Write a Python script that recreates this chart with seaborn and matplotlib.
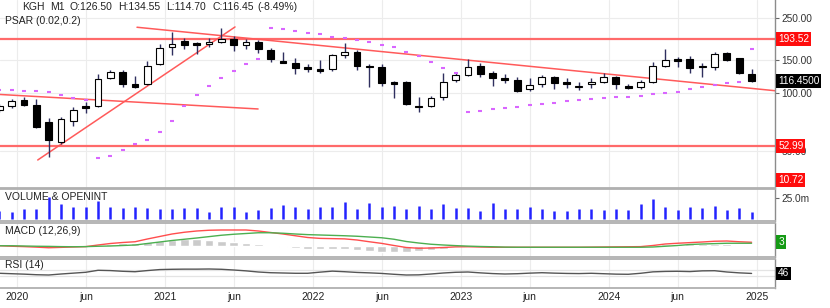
import numpy as np
import pandas as pd
import matplotlib
matplotlib.use("Agg")
import matplotlib.pyplot as plt
import matplotlib.transforms as mtrans
from matplotlib.ticker import NullLocator, FixedLocator
import seaborn as sns

# ---------------- data ----------------
month_idx = list(range(-2, 60))   # months since Jan 2020 (Nov 2019 .. Dec 2024)

open_ = [82.0, 86.0, 92.4, 87.0, 70.8, 55.6, 71.7, 86.0, 86.0, 120.6,
         129.7, 112.2, 112.2, 142.9, 175.6, 188.8, 184.3, 182.1, 186.5, 193.4,
         179.9, 186.5, 169.3, 148.2, 144.7, 137.9, 134.5, 134.5, 159.4, 165.3,
         139.5, 137.9, 115.0, 115.0, 86.0, 86.0, 95.9, 117.7, 125.1, 139.5,
         128.1, 120.6, 117.7, 105.6, 112.2, 122.1, 115.0, 108.2, 112.2, 115.0,
         122.1, 109.5, 108.2, 115.0, 139.5, 151.8, 151.8, 137.9, 137.9, 163.3,
         153.7, 126.50]
high_ = [88.0, 93.6, 95.9, 93.6, 74.3, 75.2, 84.9, 90.2, 126.6, 132.9,
         132.9, 123.6, 148.2, 182.1, 210.5, 195.8, 186.5, 195.8, 221.0, 200.6,
         193.4, 191.1, 173.5, 165.3, 153.7, 142.9, 150.0, 160.5, 184.3, 169.3,
         142.9, 142.9, 116.0, 116.3, 95.9, 97.0, 128.1, 129.7, 151.8, 144.7,
         131.3, 126.6, 122.1, 120.6, 125.1, 123.6, 120.6, 115.0, 120.6, 128.1,
         123.6, 112.2, 117.7, 146.4, 171.4, 155.6, 157.5, 144.7, 165.3, 165.3,
         153.7, 134.55]
low_ = [80.0, 83.9, 86.0, 65.9, 46.4, 54.3, 67.5, 79.0, 84.9, 119.2,
        108.2, 106.9, 110.8, 141.2, 159.4, 171.4, 161.3, 175.6, 184.3, 167.3,
        171.4, 163.3, 146.4, 144.0, 126.6, 129.7, 128.1, 132.0, 153.7, 132.9,
        108.2, 109.5, 94.7, 87.0, 79.9, 84.9, 92.4, 115.0, 123.6, 122.1,
        109.5, 113.6, 101.8, 103.1, 108.2, 105.6, 106.9, 104.3, 106.9, 113.6,
        105.6, 105.6, 105.6, 113.6, 137.9, 137.9, 128.1, 122.1, 132.9, 148.2,
        126.6, 114.70]
close_ = [86.0, 91.3, 87.0, 66.7, 56.9, 73.4, 81.9, 83.9, 119.2, 129.7,
          112.2, 108.2, 139.5, 173.5, 182.1, 179.9, 179.9, 186.5, 193.4, 179.9,
          186.5, 171.4, 151.8, 144.7, 136.2, 134.5, 131.3, 159.4, 165.3, 139.5,
          137.9, 113.6, 112.2, 88.0, 84.5, 94.7, 115.0, 125.1, 137.9, 126.6,
          120.6, 117.7, 103.1, 110.8, 122.1, 113.6, 112.2, 109.5, 115.0, 122.1,
          112.2, 106.9, 115.0, 139.5, 150.0, 148.2, 136.2, 139.5, 161.3, 150.0,
          128.1, 116.45]

psar = [104.3, 103.7, 103.1, 102.5, 101.2, 97.6, 94.7, 91.9,
        45.8, 47.1, 50.4, 54.3, 56.9, 62.7, 71.9, 86.3, 98.2, 109.5, 120.6,
        131.3, 142.9, 151.8,
        221.0, 217.5, 213.1, 208.7, 204.3, 198.9, 195.8, 191.1, 185.4, 180.6,
        175.6, 165.9, 157.5, 145.9, 136.6, 128.9,
        79.6, 81.2, 82.6, 83.9, 85.2, 86.7, 88.0, 89.5, 91.0, 91.9, 93.0,
        94.4, 95.5, 96.2, 97.4, 99.0, 100.2, 102.2, 105.2, 107.8, 110.8,
        113.1, 115.4,
        170.8]

volume_m = [10.0, 9.2, 12.4, 12.4, 26.9, 17.9, 14.4, 14.4, 21.8, 14.4,
            13.2, 15.1, 13.9, 12.4, 12.4, 13.2, 13.2, 9.2, 15.1, 15.1,
            8.5, 11.2, 13.2, 17.1, 14.4, 12.0, 15.1, 15.1, 21.0, 12.4,
            19.1, 15.1, 16.3, 12.4, 16.5, 12.4, 17.9, 13.2, 13.2, 10.4,
            19.1, 12.0, 12.4, 14.4, 12.0, 10.4, 10.4, 12.4, 12.4, 11.2,
            12.4, 11.2, 17.9, 23.8, 15.1, 11.2, 15.1, 13.9, 15.9, 11.2,
            13.2, 8.5]

macd = [0.2, -0.2, -0.5, -0.9, -1.4, -1.1, -0.8, -0.5, 0.8, 2.0,
        2.8, 3.4, 5.6, 7.6, 9.6, 11.0, 12.0, 12.6, 12.8, 12.8,
        12.8, 12.0, 10.8, 9.6, 8.2, 6.8, 6.1, 5.9, 5.7, 4.8,
        3.4, 2.1, 0.4, -1.2, -1.8, -1.6, -1.2, -0.7, -0.6, -0.8,
        -1.0, -1.0, -1.0, -1.0, -1.0, -1.0, -1.0, -1.0, -0.9, -0.8,
        -0.7, -0.6, -0.5, 0.4, 1.6, 2.2, 2.7, 3.2, 3.8, 4.0,
        3.4, 3.0]
signal = [0.2, 0.2, 0.0, -0.2, -0.3, -0.5, -0.6, -0.5, -0.2, 0.0,
          0.4, 0.8, 2.0, 3.2, 4.4, 5.4, 6.4, 7.5, 8.6, 9.4,
          10.0, 10.6, 10.6, 10.2, 9.6, 9.1, 8.8, 8.5, 8.2, 7.8,
          7.2, 6.6, 5.4, 3.6, 2.4, 1.4, 0.8, 0.3, -0.1, -0.4,
          -0.6, -0.9, -1.0, -1.0, -1.0, -1.0, -1.0, -1.0, -1.0, -1.0,
          -1.0, -1.0, -1.0, -0.8, -0.2, 0.4, 1.2, 1.6, 1.9, 2.2,
          2.2, 2.2]
hist = [0.0, -0.4, -0.5, -0.7, -1.1, -0.6, -0.2, 0.0, 1.0, 2.0,
        2.4, 2.6, 3.6, 4.4, 5.2, 5.6, 5.6, 5.1, 4.2, 3.4,
        2.8, 1.4, 0.2, -0.6, -1.4, -2.3, -2.7, -2.6, -2.5, -3.0,
        -3.8, -4.5, -5.0, -4.8, -4.2, -3.0, -2.0, -1.0, -0.5, -0.4,
        -0.4, -0.1, 0.0, 0.0, 0.0, 0.0, 0.0, 0.0, 0.1, 0.2,
        0.3, 0.4, 0.5, 1.2, 1.8, 1.8, 1.5, 1.6, 1.9, 1.8,
        1.2, 0.8]

rsi = [47, 44, 41, 37, 35, 42, 48, 54, 68, 66,
       61, 58, 66, 73, 75, 76, 76, 77, 75, 70,
       64, 56, 51, 49, 47, 47, 55, 62, 58, 53,
       50, 46, 40, 35, 36, 42, 49, 54, 56, 50,
       45, 42, 44, 48, 51, 48, 46, 45, 47, 44,
       41, 40, 47, 57, 60, 61, 59, 64, 65, 56,
       50, 46]

levels = [193.52, 52.99]
trend_up_x, trend_up_y = [1.11, 17.11], [44.7, 223.7]
trend_low_x, trend_low_y = [-1.95, 18.98], [98.8, 82.9]
trend_down_x, trend_down_y = [9.16, 60.9], [222.9, 103.4]

price_ticks = [50, 100, 150, 250]
xtick_pos = [-0.56, 5.0, 11.44, 17.0, 23.44, 29.0, 35.44, 41.0, 47.44, 53.0, 59.44]
xtick_lab = ['2020', 'jun', '2021', 'jun', '2022', 'jun', '2023', 'jun', '2024', 'jun', '2025']

df = pd.DataFrame(dict(m=month_idx, open=open_, high=high_, low=low_, close=close_,
                       psar=psar, vol=volume_m, macd=macd, signal=signal,
                       hist=hist, rsi=rsi))

# ---------------- figure ----------------
sns.set_theme(style="white")
plt.rcParams['font.family'] = ['Liberation Sans', 'DejaVu Sans']

W, H = 830, 308
fig = plt.figure(figsize=(W / 100, H / 100), dpi=100)


def px_axes(x0, y0, x1, y1):
    return fig.add_axes([x0 / W, 1 - y1 / H, (x1 - x0) / W, (y1 - y0) / H])


ax = px_axes(0, 0, 775, 188)
axv = px_axes(0, 189, 775, 221)
axm = px_axes(0, 223, 775, 257)
axr = px_axes(0, 259, 775, 288)

XL = (-1.95, 60.9)
GRID = '#ececec'
SEP = '#b0b0b0'
TXT = '#222222'

for a in (ax, axv, axm, axr):
    a.set_xlim(*XL)
    a.set_facecolor('white')
    a.xaxis.set_major_locator(FixedLocator(xtick_pos))
    a.grid(True, axis='x', color=GRID, lw=0.8)
    a.set_axisbelow(True)
    a.spines['left'].set_visible(False)
    a.spines['right'].set_color('#8c8c8c')
    a.spines['right'].set_linewidth(1.0)
    a.spines['top'].set_color(SEP)
    a.spines['bottom'].set_color(SEP)
    a.spines['top'].set_linewidth(1.3)
    a.spines['bottom'].set_linewidth(1.3)
    a.yaxis.tick_right()
    a.tick_params(axis='y', which='major', direction='out', length=3, width=0.8,
                  color='#666666', labelsize=7.3, labelcolor='#333333', pad=1.5)
    a.tick_params(axis='x', length=0, labelbottom=False)
ax.spines['top'].set_visible(False)

# ---------------- main price panel ----------------
ax.set_yscale('log')
ax.set_ylim(31.85, 310)
ax.yaxis.set_major_locator(FixedLocator(price_ticks))
ax.yaxis.set_minor_locator(NullLocator())
ax.set_yticklabels([f"{v:.2f}" for v in price_ticks])
ax.grid(True, axis='y', color=GRID, lw=0.8)

blend = mtrans.blended_transform_factory(ax.transAxes, ax.transData)
for lv in levels:
    ax.axhline(lv, color='#ff6a6a', lw=1.6, zorder=2)
ax.plot(trend_up_x, trend_up_y, color='#ff5a5a', lw=1.1, zorder=2)
ax.plot(trend_low_x, trend_low_y, color='#ff5a5a', lw=1.1, zorder=2)
ax.plot(trend_down_x, trend_down_y, color='#ff5a5a', lw=1.1, zorder=2)

up = df['close'] >= df['open']
ax.vlines(df['m'], df['low'], df['high'], color='#2f2f5f', lw=1.0, zorder=3)
body_bot = np.minimum(df['open'], df['close'])
body_h = np.maximum(np.abs(df['close'] - df['open']), 0.6)
ax.bar(df['m'], body_h, bottom=body_bot, width=0.56,
       color=np.where(up, 'white', 'black'), edgecolor='black', linewidth=0.8, zorder=4)

sns.scatterplot(data=df, x='m', y='psar', ax=ax, marker='_', s=10, linewidth=1.5,
                color='#d966ff', zorder=5, legend=False)
ax.set_xlabel('')
ax.set_ylabel('')


def box(a, y, text, fc, transform=None):
    tr = transform or mtrans.blended_transform_factory(a.transAxes, a.transData)
    a.text(1.004, y, text, transform=tr, ha='left', va='center', color='white',
           fontsize=7.3, zorder=10, clip_on=False,
           bbox=dict(boxstyle='square,pad=0.18', fc=fc, ec='none'))


box(ax, levels[0], f"{levels[0]:.2f}", '#ff0d0d')
box(ax, levels[1], f"{levels[1]:.2f}", '#ff0d0d')
box(ax, (188 - 180) / 188, "10.72", '#ff0d0d', transform=ax.transAxes)
box(ax, close_[-1], f"{close_[-1]:.4f}", '#000000')

# ---------------- volume ----------------
axv.vlines(df['m'], 0, df['vol'], color='#2323ff', lw=1.8)
axv.set_ylim(-1.8, 36)
axv.set_yticks([25])
axv.set_yticklabels(['25.0m'])

# ---------------- MACD ----------------
axm.bar(df['m'], df['hist'], width=0.72, color='#cbcbcb', zorder=1)
sns.lineplot(data=df, x='m', y='signal', ax=axm, color='#4caf50', lw=1.0, zorder=3)
sns.lineplot(data=df, x='m', y='macd', ax=axm, color='#ff4d4d', lw=1.0, zorder=2)
axm.set_ylim(-8.8, 18.4)
axm.set_yticks([])
axm.set_xlabel('')
axm.set_ylabel('')
box(axm, macd[-1], f"{macd[-1]:.0f}", '#159a15')

# ---------------- RSI ----------------
axr.axhline(70, color='#e4e4e4', lw=0.9)
axr.axhline(30, color='#e4e4e4', lw=0.9)
sns.lineplot(data=df, x='m', y='rsi', ax=axr, color='#555555', lw=1.0)
axr.set_ylim(-56, 147)
axr.set_yticks([])
axr.set_xlabel('')
axr.set_ylabel('')
box(axr, rsi[-1], f"{rsi[-1]:.0f}", '#000000')
axr.set_xticks(xtick_pos)
axr.set_xticklabels(xtick_lab)
axr.tick_params(axis='x', labelbottom=True, labelsize=7.5, labelcolor=TXT, pad=3)

# ---------------- texts ----------------
hdr = ['KGH', 'M1', 'O:126.50', 'H:134.55', 'L:114.70', 'C:116.45', '(-8.49%)']
hdr_x = [22, 50, 69, 118, 166, 212, 257]
for t, xx in zip(hdr, hdr_x):
    fig.text(xx / W, 1 - 7 / H, t, fontsize=7.5, color=TXT, va='center', ha='left')
fig.text(5 / W, 1 - 21 / H, 'PSAR (0.02,0.2)', fontsize=7.5, color=TXT, va='center')
fig.text(5 / W, 1 - 197 / H, 'VOLUME & OPENINT', fontsize=7.5, color=TXT, va='center')
fig.text(5 / W, 1 - 231 / H, 'MACD (12,26,9)', fontsize=7.5, color=TXT, va='center')
fig.text(5 / W, 1 - 265 / H, 'RSI (14)', fontsize=7.5, color=TXT, va='center')

fig.savefig('out.png', dpi=100, facecolor='white')
